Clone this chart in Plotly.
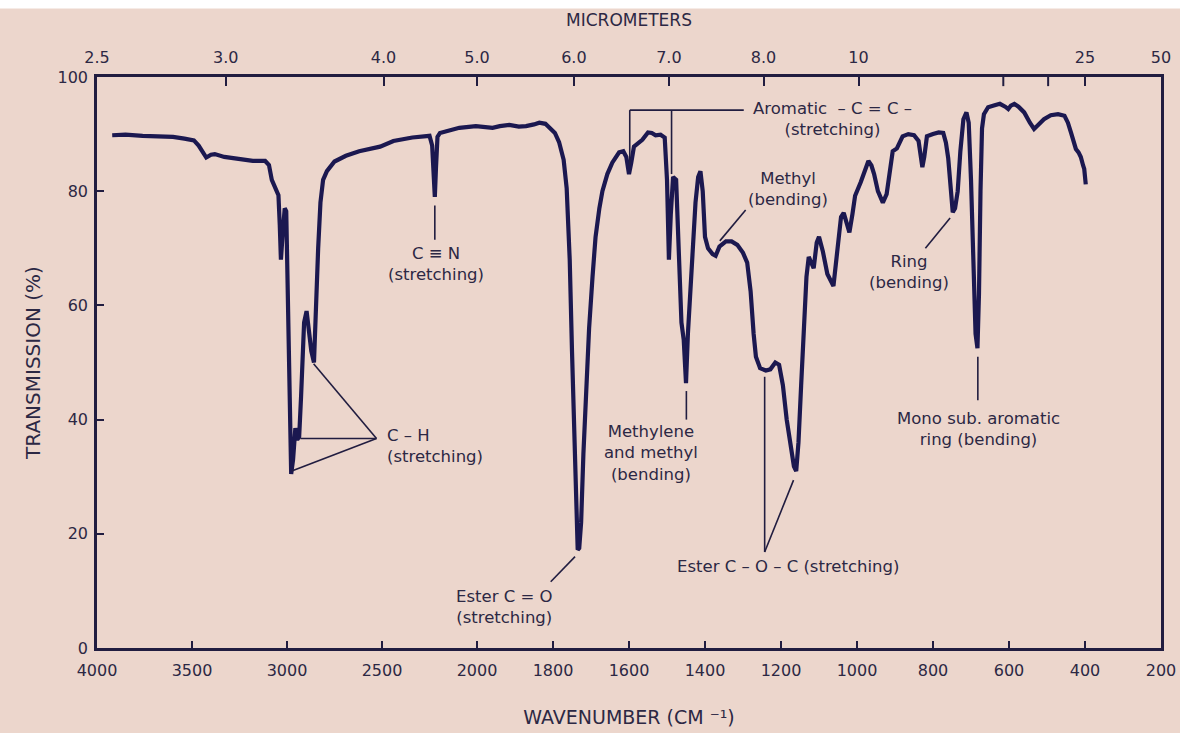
import plotly.graph_objects as go

# ---------------- data ----------------
wavenumber = [3920, 3850, 3760, 3680, 3600, 3540, 3490, 3465, 3445, 3425, 3400, 3380, 3330, 3260, 3180,
              3115, 3095, 3080, 3060, 3045, 3038, 3032, 3024, 3012, 3004, 2998, 2988, 2978, 2968, 2956,
              2946, 2936, 2926, 2910, 2897, 2885, 2872, 2858, 2848, 2836, 2824, 2810, 2790, 2750, 2690,
              2620, 2510, 2440, 2340, 2250, 2236, 2228, 2222, 2216, 2208, 2195, 2093, 2006, 1985, 1959,
              1940, 1915, 1890, 1871, 1850, 1836, 1820, 1808, 1795, 1784, 1772, 1764, 1756, 1750, 1744,
              1739, 1735, 1731, 1726, 1720, 1713, 1705, 1696, 1688, 1678, 1670, 1657, 1644, 1626, 1615,
              1607, 1600, 1594, 1587, 1565, 1550, 1540, 1530, 1517, 1506, 1500, 1495, 1490, 1484, 1476,
              1470, 1462, 1456, 1450, 1445, 1435, 1425, 1418, 1412, 1406, 1400, 1392, 1380, 1372, 1362,
              1345, 1330, 1315, 1300, 1289, 1280, 1272, 1266, 1255, 1240, 1228, 1215, 1205, 1195, 1185,
              1175, 1166, 1160, 1154, 1147, 1140, 1133, 1127, 1120, 1114, 1106, 1100, 1090, 1078, 1062,
              1050, 1042, 1035, 1027, 1020, 1012, 1005, 990, 978, 970, 962, 955, 945, 932, 922,
              914, 906, 895, 880, 865, 850, 838, 832, 828, 823, 816, 800, 785, 773, 766,
              760, 754, 748, 742, 735, 728, 720, 712, 706, 700, 694, 688, 683, 679, 675,
              671, 666, 655, 640, 624, 610, 602, 595, 586, 575, 560, 545, 534, 520, 508,
              490, 471, 454, 445, 437, 430, 424, 417, 411, 405, 402, 398]
transmission = [89.8, 89.9, 89.7, 89.6, 89.5, 89.2, 88.9, 88.0, 86.8, 85.9, 86.4, 86.5, 86.0, 85.6, 85.3,
                85.3, 84.6, 82.0, 80.3, 79.3, 74.0, 68.0, 72.0, 77.0, 76.5, 66.0, 45.0, 30.5, 33.0, 38.5,
                36.5, 37.0, 44.0, 57.0, 59.0, 55.0, 52.0, 50.0, 60.0, 70.0, 78.0, 82.0, 83.5, 85.2, 86.2,
                87.0, 87.8, 88.8, 89.4, 89.7, 88.0, 83.0, 79.0, 84.0, 89.5, 90.2, 91.1, 91.4, 91.3, 91.1,
                91.4, 91.6, 91.3, 91.4, 91.7, 92.0, 91.8, 91.0, 90.2, 88.6, 85.5, 80.5, 68.0, 52.0, 36.0,
                21.0, 17.2, 17.5, 22.0, 34.0, 46.0, 56.0, 65.0, 72.0, 77.0, 80.0, 83.0, 85.0, 86.8, 87.0,
                86.0, 83.0, 85.0, 87.8, 89.0, 90.3, 90.2, 89.8, 89.9, 89.4, 82.0, 68.0, 76.0, 82.5, 82.0,
                72.0, 57.0, 54.0, 46.4, 55.0, 68.0, 78.0, 82.5, 83.5, 80.0, 72.0, 70.0, 69.0, 68.7, 70.3,
                71.2, 71.2, 70.6, 69.2, 67.5, 62.5, 55.0, 51.0, 49.0, 48.6, 48.8, 50.0, 49.6, 46.0, 40.0,
                35.0, 31.8, 31.0, 36.0, 46.0, 57.0, 65.0, 68.5, 67.5, 66.5, 71.0, 72.0, 69.5, 65.5, 63.4,
                70.0, 75.5, 76.2, 74.5, 72.8, 76.0, 79.2, 81.6, 84.0, 85.3, 84.5, 83.0, 80.0, 78.0, 79.5,
                84.0, 87.0, 87.5, 89.6, 90.0, 89.8, 88.8, 86.5, 84.2, 86.0, 89.6, 90.0, 90.3, 90.2, 88.5,
                85.8, 81.0, 76.3, 77.0, 80.0, 87.0, 92.6, 93.8, 92.0, 82.0, 68.0, 55.0, 52.5, 62.0, 80.0,
                91.0, 93.5, 94.7, 95.0, 95.3, 94.8, 94.4, 95.0, 95.3, 94.8, 93.8, 92.0, 90.9, 91.8, 92.6,
                93.3, 93.5, 93.2, 92.0, 90.3, 88.5, 87.4, 86.8, 86.0, 84.5, 83.9, 81.2]

bottom_ticks = [4000, 3500, 3000, 2500, 2000, 1800, 1600, 1400, 1200, 1000, 800, 600, 400, 200]
um_labels = ["2.5", "3.0", "4.0", "5.0", "6.0", "7.0", "8.0", "10", "25", "50"]
um_tick_wavenumbers = [4000, 3322, 2492, 2000, 1745, 1495, 1246, 996, 400, 200]
um_unlabeled_tick_wavenumbers = [615, 497]
y_ticks = [0, 20, 40, 60, 80, 100]

# annotation texts: (text, wavenumber, %T, anchor)
label_texts = [
    ("C \u2261 N<br>(stretching)", 2214, 67.3, "center"),
    ("C \u2013 H<br>(stretching)", 2482, 35.4, "left"),
    ("Ester C = O<br>(stretching)", 1928, 7.1, "center"),
    ("Aromatic  \u2013 C = C \u2013<br>(stretching)", 1064, 92.6, "center"),
    ("Methyl<br>(bending)", 1182, 80.4, "center"),
    ("Methylene<br>and methyl<br>(bending)", 1542, 34.1, "center"),
    ("Ester C \u2013 O \u2013 C (stretching)", 1182, 14.2, "center"),
    ("Ring<br>(bending)", 864, 65.8, "center"),
    ("Mono sub. aromatic<br>ring (bending)", 681, 38.4, "center"),
]
# leader lines: (w0, T0, w1, T1)
leader_lines = [
    (2529, 36.7, 2975, 31.0),
    (2529, 36.7, 2930, 36.7),
    (2529, 36.7, 2860, 49.8),
    (2222, 77.5, 2222, 71.5),
    (1742, 16.0, 1806, 11.6),
    (1598, 94.2, 1298, 94.2),
    (1598, 94.2, 1598, 84.5),
    (1488, 94.2, 1488, 83.0),
    (1361, 71.3, 1293, 76.7),
    (1449, 45.0, 1449, 40.0),
    (1243, 47.5, 1243, 16.8),
    (1243, 16.8, 1167, 29.4),
    (755, 75.3, 820, 70.0),
    (682, 51.0, 682, 43.4),
]


def pos(w):
    """Chart's split wavenumber scale: 4000-2000 compressed, 2000-200 at double scale."""
    return 4000 - w if w >= 2000 else 2000 + 2 * (2000 - w)


BG = "#ecd6cc"
INK = "#1b1850"
FRAME = "#211d40"
TXT = "#2c2844"
FONT = "DejaVu Sans"

fig = go.Figure()
fig.add_trace(go.Scatter(x=[pos(w) for w in wavenumber], y=transmission, mode="lines",
                         line=dict(color=INK, width=4.2), showlegend=False, hoverinfo="skip"))
fig.add_trace(go.Scatter(x=[pos(4000), pos(200)], y=[50, 50], xaxis="x2", mode="lines",
                         line=dict(width=0), opacity=0, showlegend=False, hoverinfo="skip"))

shapes = []
for w0, t0, w1, t1 in leader_lines:
    shapes.append(dict(type="line", xref="x", yref="y", x0=pos(w0), y0=t0, x1=pos(w1), y1=t1,
                       line=dict(color=FRAME, width=1.6)))
# unlabeled micrometer ticks on the top edge
for w in um_unlabeled_tick_wavenumbers:
    shapes.append(dict(type="line", xref="x", yref="paper", x0=pos(w), x1=pos(w), y0=1.0, y1=0.984,
                       line=dict(color=FRAME, width=2)))
# thin white strip along the top edge of the scan
shapes.append(dict(type="rect", xref="paper", yref="paper", x0=-0.1, x1=1.1, y0=1.12, y1=1.14,
                   fillcolor="white", line=dict(width=0), layer="below"))

annotations = []
for text, w, t, anchor in label_texts:
    annotations.append(dict(text=text, x=pos(w), y=t, xref="x", yref="y", showarrow=False,
                            xanchor=anchor, yanchor="middle", align=anchor,
                            font=dict(family=FONT, size=16.5, color=TXT)))

tickfont = dict(family=FONT, size=16, color=TXT)
fig.update_layout(
    width=1180, height=733, autosize=False,
    margin=dict(l=97, r=19, t=77, b=85),
    paper_bgcolor=BG, plot_bgcolor=BG,
    xaxis=dict(range=[pos(4000), pos(200)], tickmode="array",
               tickvals=[pos(t) for t in bottom_ticks], ticktext=[str(t) for t in bottom_ticks],
               ticks="inside", ticklen=7, tickwidth=2, tickcolor=FRAME,
               showline=True, linewidth=2.5, linecolor=FRAME, mirror=True,
               showgrid=False, zeroline=False, tickfont=tickfont, ticklabelstandoff=6,
               title=dict(text="WAVENUMBER (CM \u207b\u00b9)", standoff=32,
                          font=dict(family=FONT, size=19, color=TXT)),
               automargin=False),
    xaxis2=dict(range=[pos(4000), pos(200)], overlaying="x", side="top", anchor="y",
                tickmode="array", tickvals=[pos(w) for w in um_tick_wavenumbers], ticktext=um_labels,
                ticks="inside", ticklen=9, tickwidth=2, tickcolor=FRAME,
                showline=False, showgrid=False, zeroline=False, tickfont=tickfont,
                ticklabelstandoff=10,
                title=dict(text="MICROMETERS", standoff=16, font=dict(family=FONT, size=17, color=TXT)),
                automargin=False),
    yaxis=dict(range=[0, 100], tickmode="array", tickvals=y_ticks,
               ticks="inside", ticklen=7, tickwidth=2, tickcolor=FRAME,
               showline=True, linewidth=2.5, linecolor=FRAME, mirror=True,
               showgrid=False, zeroline=False, tickfont=tickfont, ticklabelstandoff=3,
               title=dict(text="TRANSMISSION (%)", standoff=12, font=dict(family=FONT, size=20, color=TXT)),
               automargin=False),
    shapes=shapes,
    annotations=annotations,
)

fig.write_html("out.html")
